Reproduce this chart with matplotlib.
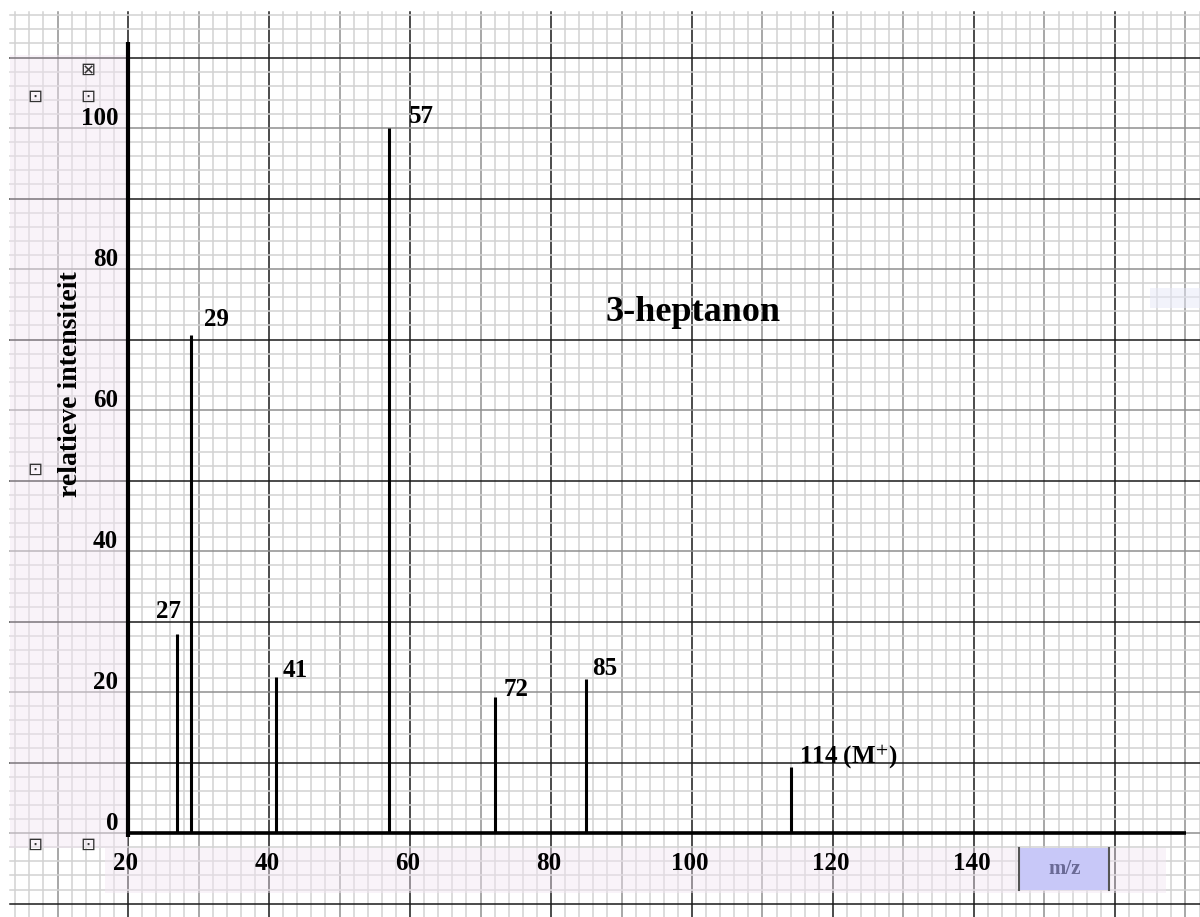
import matplotlib
matplotlib.use('Agg')
import numpy as np
import matplotlib.pyplot as plt
from matplotlib.patches import Rectangle

plt.rcParams['mathtext.fontset'] = 'stix'

# massaspectrum 3-heptanon
mz = [27, 29, 41, 57, 72, 85, 114]
intensiteit = [28.3, 70.6, 22.1, 100, 19.3, 21.9, 9.4]
piek_labels = ['27', '29', '41', '57', '72', '85', '114 (M$^{+}$)']
x_ticks = [20, 40, 60, 80, 100, 120, 140]
y_ticks = [0, 20, 40, 60, 80, 100]

# label offsets (m/z, intensiteit) t.o.v. de piek
label_dx = [-3.0, 1.8, 1.0, 2.8, 1.3, 0.9, 1.2]
label_dy = [3.2, 2.2, 1.0, 1.7, 1.0, 1.5, 1.4]

fig = plt.figure(figsize=(12, 9.17), dpi=100)
ax = fig.add_axes([0, 0, 1, 1])
ax.set_xlim(1.84, 172.06)
ax.set_ylim(-11.9, 118.16)
ax.axis('off')

# ruitjespapier
x0, x1 = 3.3, 172.06
y0, y1 = -11.9, 116.5
for gx in np.arange(4, 173, 2):
    if gx % 20 == 0:
        c, lw = '#1a1a1a', 1.1
    elif gx % 10 == 0:
        c, lw = '#8f8f8f', 1.1
    else:
        c, lw = '#d2d2d2', 1.1
    ax.plot([gx, gx], [y0, y1], color=c, lw=lw, zorder=1)
for gy in np.arange(-10, 117, 2):
    if gy % 20 == 10:
        c, lw = '#1a1a1a', 1.1
    elif gy % 10 == 0:
        c, lw = '#8f8f8f', 1.1
    else:
        c, lw = '#d2d2d2', 1.1
    ax.plot([x0, x1], [gy, gy], color=c, lw=lw, zorder=1)

# roze vlakken van de ingeplakte labels
ax.add_patch(Rectangle((3.3, -2.1), 16.7, 112.5, facecolor='#f3e6f3',
                       alpha=0.45, edgecolor='none', zorder=2))
ax.add_patch(Rectangle((16.7, -8.5), 150.6, 6.4, facecolor='#f3e6f3',
                       alpha=0.45, edgecolor='none', zorder=2))
ax.add_patch(Rectangle((165.0, 74.5), 8, 2.8, facecolor='#e6e8f8',
                       alpha=0.5, edgecolor='none', zorder=2))

# assen
ax.plot([20, 20], [-0.6, 112.2], color='black', lw=3.0,
        solid_capstyle='butt', zorder=4)
ax.plot([20, 170.1], [0, 0], color='black', lw=2.6,
        solid_capstyle='butt', zorder=4)

# pieken
ax.vlines(mz, 0, intensiteit, colors='black', lw=2.2, zorder=5)

serif = ['Liberation Serif', 'DejaVu Serif']
for m, h, lab, dx, dy in zip(mz, intensiteit, piek_labels, label_dx, label_dy):
    ax.text(m + dx, h + dy, lab, fontsize=18, fontweight='bold',
            family=serif, ha='left', va='center', zorder=6)

for t in y_ticks:
    ax.text(18.6, t + 1.4, str(t), fontsize=18, fontweight='bold',
            family=serif, ha='right', va='center', zorder=6)
for t in x_ticks:
    ax.text(t - 0.3, -4.3, str(t), fontsize=18, fontweight='bold',
            family=serif, ha='center', va='center', zorder=6)

ax.text(11.8, 63.7, 'relatieve intensiteit', fontsize=20, fontweight='bold',
        family=serif, rotation=90, ha='center', va='center', zorder=6)

ax.text(87.8, 73.9, '3-heptanon', fontsize=26, fontweight='bold',
        family=serif, ha='left', va='center', zorder=6)

# m/z vakje
ax.add_patch(Rectangle((146.4, -8.1), 12.8, 5.95, facecolor='#c8c8f8',
                       edgecolor='none', zorder=6))
ax.plot([146.4, 146.4], [-8.1, -2.15], color='#555555', lw=1.5, zorder=7)
ax.plot([159.2, 159.2], [-8.1, -2.15], color='#555555', lw=1.5, zorder=7)
ax.text(152.8, -5.1, 'm/z', fontsize=15, fontweight='bold', family=serif,
        color='#6a6a96', ha='center', va='center', zorder=8)

# kleine vakjes links
for bx, by, s in [(6.8, 104.4, '⊡'), (14.3, 104.4, '⊡'), (14.3, 108.2, '⊠'),
                  (6.8, 51.5, '⊡'), (6.8, -1.6, '⊡'), (14.3, -1.6, '⊡')]:
    ax.text(bx, by, s, fontsize=13, family='DejaVu Sans', color='#333333',
            ha='center', va='center', zorder=6)

fig.savefig('out.png', dpi=100)
